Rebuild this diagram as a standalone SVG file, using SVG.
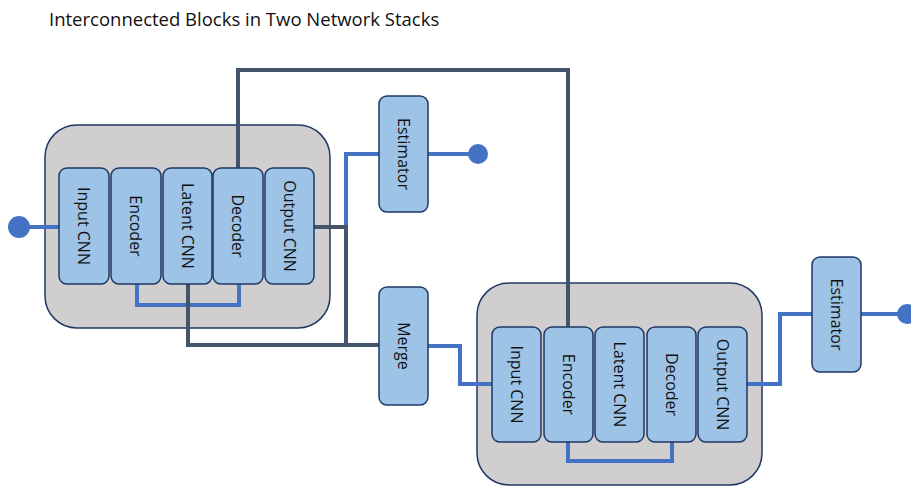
<svg xmlns="http://www.w3.org/2000/svg" width="911" height="486" viewBox="0 0 911 486">
<style>
.title{font-family:"Open Sans","Liberation Sans",sans-serif;font-size:18.5px;fill:#111}
.stack{fill:#d0cece;stroke:#1f3864;stroke-width:1.5}
.blk{fill:#9dc3e6;stroke:#1f3864;stroke-width:1.5}
.lbl{font-family:"Open Sans","Liberation Sans",sans-serif;font-size:16px;fill:#111;text-anchor:middle;dominant-baseline:central}
.blue{fill:none;stroke:#4472c4;stroke-width:4}
.gray{fill:none;stroke:#44546a;stroke-width:4}
.dot{fill:#4472c4}
</style>
<rect width="911" height="486" fill="#fff"/>
<text class="title" x="49" y="26">Interconnected Blocks in Two Network Stacks</text>

<g id="stack1"><rect class="stack" x="45" y="125" width="285" height="203" rx="32"/></g>
<g id="stack2"><rect class="stack" x="477" y="283" width="285" height="202" rx="32"/></g>

<g id="connectors">
  <path class="gray" d="M238 168 V70 H568 V327"/>
  <path class="blue" d="M19 227 H59"/>
  <path class="blue" d="M137 284 V305 H239 V284"/>
  <path class="gray" d="M188 284 V345 H379"/>
  <path class="blue" d="M346 227 V154 H379"/>
  <path class="gray" d="M314 227 H346 V345"/>
  <path class="blue" d="M428 154 H478"/>
  <path class="blue" d="M428 346 H460 V384 H492"/>
  <path class="blue" d="M568 442 V461 H672 V442"/>
  <path class="blue" d="M747 384 H780 V314 H812"/>
  <path class="blue" d="M861 314 H907"/>
</g>

<g id="in-dot"><circle class="dot" cx="19" cy="227" r="11"/></g>
<g id="out-dot1"><circle class="dot" cx="478" cy="154" r="10"/></g>
<g id="out-dot2"><circle class="dot" cx="907" cy="314" r="10"/></g>

<g id="s1-input"><rect class="blk" x="59" y="168" width="50" height="116" rx="8"/><text class="lbl" transform="translate(84,226) rotate(90)">Input CNN</text></g>
<g id="s1-encoder"><rect class="blk" x="111" y="168" width="50" height="116" rx="8"/><text class="lbl" transform="translate(136,226) rotate(90)">Encoder</text></g>
<g id="s1-latent"><rect class="blk" x="163" y="168" width="49" height="116" rx="8"/><text class="lbl" transform="translate(187.5,226) rotate(90)">Latent CNN</text></g>
<g id="s1-decoder"><rect class="blk" x="213" y="168" width="50" height="116" rx="8"/><text class="lbl" transform="translate(238,226) rotate(90)">Decoder</text></g>
<g id="s1-output"><rect class="blk" x="265" y="168" width="49" height="116" rx="8"/><text class="lbl" transform="translate(289.5,226) rotate(90)">Output CNN</text></g>

<g id="estimator1"><rect class="blk" x="379" y="96" width="49" height="116" rx="8"/><text class="lbl" transform="translate(403.5,154) rotate(90)">Estimator</text></g>
<g id="merge"><rect class="blk" x="379" y="287" width="49" height="118" rx="8"/><text class="lbl" transform="translate(403.5,346) rotate(90)">Merge</text></g>

<g id="s2-input"><rect class="blk" x="492" y="327" width="49" height="115" rx="8"/><text class="lbl" transform="translate(516.5,384.5) rotate(90)">Input CNN</text></g>
<g id="s2-encoder"><rect class="blk" x="544" y="327" width="49" height="115" rx="8"/><text class="lbl" transform="translate(568.5,384.5) rotate(90)">Encoder</text></g>
<g id="s2-latent"><rect class="blk" x="595" y="327" width="49" height="115" rx="8"/><text class="lbl" transform="translate(619.5,384.5) rotate(90)">Latent CNN</text></g>
<g id="s2-decoder"><rect class="blk" x="647" y="327" width="49" height="115" rx="8"/><text class="lbl" transform="translate(671.5,384.5) rotate(90)">Decoder</text></g>
<g id="s2-output"><rect class="blk" x="698" y="327" width="49" height="115" rx="8"/><text class="lbl" transform="translate(722.5,384.5) rotate(90)">Output CNN</text></g>

<g id="estimator2"><rect class="blk" x="812" y="257" width="49" height="115" rx="8"/><text class="lbl" transform="translate(836.5,314.5) rotate(90)">Estimator</text></g>
</svg>
